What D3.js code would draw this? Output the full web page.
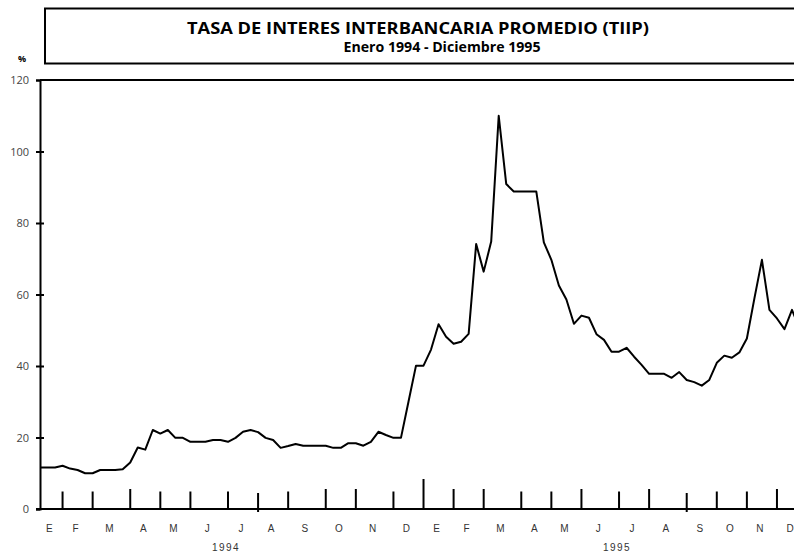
<!DOCTYPE html>
<html>
<head>
<meta charset="utf-8">
<script src="https://cdn.jsdelivr.net/npm/d3@7"></script>
<style>
  body { margin: 0; background: #fff; }
  svg { display: block; }
</style>
</head>
<body>
<div id="chart"></div>
<script>
/* TIIP semanal, enero 1994 - diciembre 1995 */

const TITULO = 'TASA DE INTERES INTERBANCARIA PROMEDIO (TIIP)';
const SUBTITULO = 'Enero 1994 - Diciembre 1995';
const UNIDAD = '%';

const MESES = ['E', 'F', 'M', 'A', 'M', 'J', 'J', 'A', 'S', 'O', 'N', 'D'];
const ANOS = ['1994', '1995'];

// semanas registradas en cada mes
const SEMANAS_MES_1994 = [3, 4, 5, 4, 4, 5, 4, 4, 5, 4, 5, 4];
const SEMANAS_MES_1995 = [4, 4, 5, 4, 4, 5, 4, 5, 4, 4, 4, 4];

// tasa promedio semanal (%)
const TIIP_1994 = [
  11.6, 11.6, 11.6, 12.1, 11.3, 10.9, 10.0, 10.0, 10.9, 10.9,
  10.9, 11.1, 13.0, 17.2, 16.6, 22.1, 21.1, 22.1, 19.9, 19.9,
  18.8, 18.8, 18.8, 19.3, 19.3, 18.8, 19.9, 21.6, 22.1, 21.5,
  19.9, 19.3, 17.1, 17.6, 18.2, 17.7, 17.7, 17.7, 17.7, 17.1,
  17.1, 18.4, 18.4, 17.7, 18.8, 21.6, 20.7, 19.9, 19.9, 30.0,
  40.1,
];
const TIIP_1995 = [
  40.1, 44.6, 51.7, 48.2, 46.2, 46.8, 49.0, 74.1, 66.4, 74.8,
  110.0, 90.9, 88.8, 88.8, 88.8, 88.8, 74.6, 69.7, 62.5, 58.6,
  51.8, 54.1, 53.5, 48.9, 47.3, 44.0, 44.0, 45.1, 42.6, 40.3,
  37.8, 37.8, 37.8, 36.7, 38.3, 36.1, 35.5, 34.5, 36.1, 40.9,
  42.9, 42.3, 43.8, 47.7, 58.9, 69.7, 55.7, 53.3, 50.3, 55.7,
  50.5,
];

const Y_TICKS = [0, 20, 40, 60, 80, 100, 120];

// ---- armado ----
const serie = TIIP_1994.concat(TIIP_1995).map((v, i) => ({ i, v }));
const semanasMes = SEMANAS_MES_1994.concat(SEMANAS_MES_1995);
const inicios = [];
semanasMes.reduce((acc, n) => { inicios.push(acc); return acc + n; }, 0);
const meses = semanasMes.map((n, k) => ({
  nombre: MESES[k % 12],
  inicio: inicios[k],
  mitad: inicios[k] + n / 2,
}));

const W = 794, H = 557;
const FONT = '"Liberation Sans", Arial, sans-serif';
const FONT_TIT = '"Open Sans", "Liberation Sans", sans-serif';

const svg = d3.select('#chart').append('svg')
  .attr('width', W).attr('height', H)
  .style('font-family', FONT);

const x = d3.scaleLinear().domain([0, 100]).range([40, 792]);
const y = d3.scaleLinear().domain([0, 120]).range([509, 80]);

// Title box (the source uses a wide face, so stretch to its measured width)
svg.append('rect')
  .attr('x', 45).attr('y', 8.5)
  .attr('width', 780).attr('height', 55)
  .attr('fill', 'none').attr('stroke', '#000').attr('stroke-width', 2);

svg.append('text')
  .attr('x', 418).attr('y', 33.5)
  .attr('text-anchor', 'middle')
  .attr('font-family', FONT_TIT)
  .attr('font-size', 16).attr('font-weight', 'bold')
  .attr('textLength', 462).attr('lengthAdjust', 'spacingAndGlyphs')
  .text(TITULO);

svg.append('text')
  .attr('x', 442).attr('y', 51.5)
  .attr('text-anchor', 'middle')
  .attr('font-family', FONT_TIT)
  .attr('font-size', 13.5).attr('font-weight', 'bold')
  .attr('textLength', 197).attr('lengthAdjust', 'spacingAndGlyphs')
  .text(SUBTITULO);

svg.append('text')
  .attr('x', 22).attr('y', 62)
  .attr('text-anchor', 'middle')
  .attr('font-family', FONT_TIT)
  .attr('font-size', 9).attr('font-weight', 'bold')
  .text(UNIDAD);

// Frame: top line + left axis
svg.append('line')
  .attr('x1', x(0)).attr('x2', W + 2)
  .attr('y1', y(120)).attr('y2', y(120))
  .attr('stroke', '#000').attr('stroke-width', 2);

svg.append('g')
  .attr('transform', `translate(${x(0)},0)`)
  .call(d3.axisLeft(y).tickValues(Y_TICKS).tickSize(4).tickPadding(7))
  .call(ax => ax.select('.domain').attr('stroke-width', 2))
  .call(ax => ax.selectAll('.tick line')
    .attr('stroke-width', 2)
    .attr('x2', -4)
    .attr('x1', d => d === 120 || d === 0 ? 0 : 4))
  .call(ax => ax.selectAll('text')
    .attr('font-size', 11).attr('fill', '#444').attr('font-family', FONT_TIT));

// Bottom axis, ticks at each month start
svg.append('line')
  .attr('x1', x(0) - 4).attr('x2', W + 2)
  .attr('y1', y(0)).attr('y2', y(0))
  .attr('stroke', '#000').attr('stroke-width', 2);

const TICK_LARGO = 17.5;
const TICK_ALTOS = new Set([12, 38, 42, 55, 59, 72, 81, 98]);
const TICK_CRUZA = new Set([29, 86]);

svg.append('g')
  .selectAll('line')
  .data(meses.filter(m => m.inicio > 0))
  .join('line')
  .attr('x1', m => x(m.inicio)).attr('x2', m => x(m.inicio))
  .attr('y1', m => {
    if (m.inicio === inicios[12]) return y(0) - 30;
    if (TICK_ALTOS.has(m.inicio)) return y(0) - 20;
    if (TICK_CRUZA.has(m.inicio)) return y(0) - 16;
    return y(0) - TICK_LARGO;
  })
  .attr('y2', m => TICK_CRUZA.has(m.inicio) ? y(0) + 3 : y(0))
  .attr('stroke', '#000').attr('stroke-width', 2);

svg.append('g')
  .selectAll('text')
  .data(meses)
  .join('text')
  .attr('x', m => x(m.mitad) - 2)
  .attr('y', y(0) + 23)
  .attr('text-anchor', 'middle')
  .attr('font-size', 10).attr('fill', '#333')
  .text(m => m.nombre);

svg.append('g')
  .selectAll('text')
  .data(ANOS)
  .join('text')
  .attr('x', (d, k) => x(inicios[k * 12 + 6]) - 2)
  .attr('y', y(0) + 42)
  .attr('text-anchor', 'middle')
  .attr('font-size', 10).attr('fill', '#333')
  .attr('letter-spacing', 1.5)
  .text(d => d);

// Series
svg.append('path')
  .datum(serie)
  .attr('fill', 'none')
  .attr('stroke', '#000')
  .attr('stroke-width', 2)
  .attr('stroke-linejoin', 'round')
  .attr('d', d3.line().x(d => x(d.i)).y(d => y(d.v)));
</script>
</body>
</html>
